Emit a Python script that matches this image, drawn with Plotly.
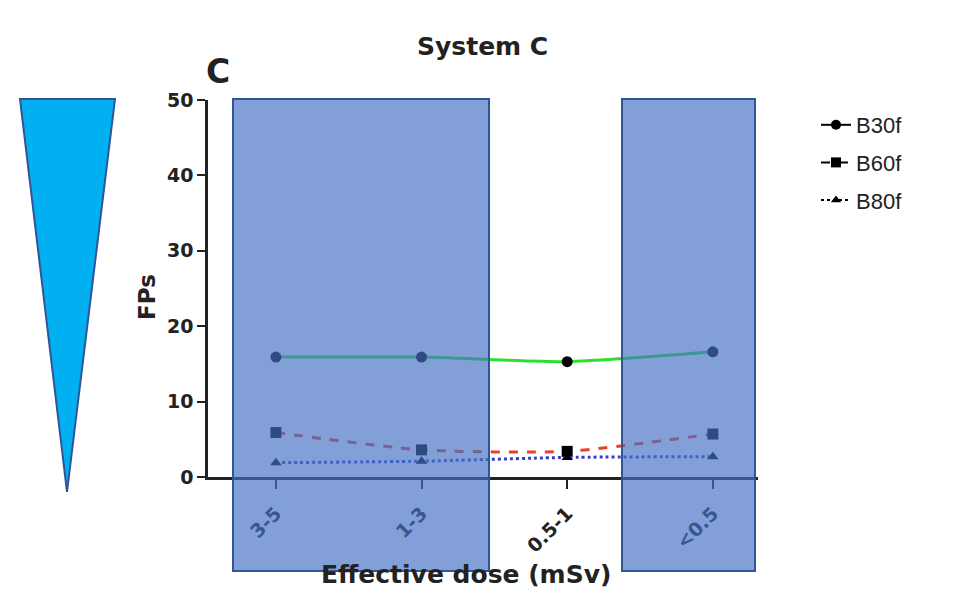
import plotly.graph_objects as go

categories = ["3-5", "1-3", "0.5-1", "<0.5"]
b30f = [15.9, 15.9, 15.3, 16.6]
b60f = [5.9, 3.6, 3.4, 5.7]
b80f = [1.9, 2.1, 2.6, 2.7]
y_ticks = [0, 10, 20, 30, 40, 50]

BOLD = "DejaVu Sans, sans-serif"
LEG = "Liberation Sans, Arial, sans-serif"

series = [
    ("B30f", b30f, "#2ee02e", "solid", "circle", 11),
    ("B60f", b60f, "#e8402a", "dash", "square", 11),
    ("B80f", b80f, "#3a3ad0", "dot", "triangle-up", 10),
]

fig = go.Figure()
for name, vals, col, dash, sym, ms in series:
    fig.add_trace(go.Scatter(
        x=categories, y=vals, mode="lines+markers", name=name, showlegend=False,
        line=dict(color=col, width=3, dash=dash, shape="spline", smoothing=0.6),
        marker=dict(symbol=sym, size=ms, color="black"),
    ))
for name, vals, col, dash, sym, ms in series:
    fig.add_trace(go.Scatter(
        x=[None], y=[None], mode="lines+markers", name=name, legendgroup=name,
        line=dict(color="black", width=2, dash=dash),
        marker=dict(symbol=sym, size=ms - 1, color="black"),
    ))

# window-pixel geometry (page body has an 8px margin)
OFF = 8
W, H = 956, 610
L, R, T, B = 208, 758, 100, 477
pw, ph = R - L, B - T


def px(x):
    return (x - L) / pw


def py(y):
    return (B - y) / ph


shapes = []
for x0, x1 in [(233, 489), (622, 755)]:
    shapes.append(dict(type="rect", xref="paper", yref="paper",
                       x0=px(x0), x1=px(x1), y0=py(571), y1=py(99),
                       fillcolor="rgba(68,114,196,0.67)",
                       line=dict(color="#2f5597", width=2), layer="above"))
tri = "M {},{} L {},{} L {},{} Z".format(px(20), py(99), px(115), py(99), px(67), py(492))
shapes.append(dict(type="path", xref="paper", yref="paper", path=tri,
                   fillcolor="#00b0f0", line=dict(color="#2f5597", width=2), layer="above"))

fig.update_layout(
    width=W, height=H,
    margin=dict(l=L - OFF, r=W - (R - OFF), t=T - OFF, b=H - (B - OFF), pad=0),
    paper_bgcolor="white", plot_bgcolor="white",
    font=dict(family=BOLD, color="#222"),
    shapes=shapes,
    showlegend=True,
    legend=dict(x=px(816), y=py(104), xanchor="left", yanchor="top",
                font=dict(size=22, color="#222", family=LEG),
                tracegroupgap=6, bgcolor="rgba(0,0,0,0)"),
    annotations=[
        dict(text="<b>System C</b>", x=px(482), y=py(30), xref="paper", yref="paper",
             showarrow=False, font=dict(size=25, color="#222")),
        dict(text="<b>C</b>", x=px(204), y=py(50), xref="paper", yref="paper",
             showarrow=False, font=dict(size=33, color="#222")),
        dict(text="<b>FPs</b>", x=px(132), y=py(297), xref="paper", yref="paper",
             showarrow=False, textangle=-90, font=dict(size=23, color="#222")),
        dict(text="<b>Effective dose (mSv)</b>", x=px(466), y=py(591), xref="paper", yref="paper",
             showarrow=False, font=dict(size=25, color="#222")),
    ],
)
fig.update_xaxes(
    type="category", range=[-0.466, 3.31],
    tickvals=categories, ticktext=["<b>%s</b>" % c for c in categories],
    showline=True, linecolor="#222", linewidth=3,
    ticks="outside", ticklen=9, tickwidth=2, tickcolor="#222",
    tickangle=-45, tickfont=dict(size=19, color="#222"), ticklabelstandoff=6,
    showgrid=False, zeroline=False,
)
fig.update_yaxes(
    range=[0, 50], tickvals=y_ticks, ticktext=["<b>%d</b>" % v for v in y_ticks],
    showline=True, linecolor="#222", linewidth=2.5,
    ticks="outside", ticklen=8, tickwidth=2, tickcolor="#222",
    tickfont=dict(size=19, color="#222"),
    showgrid=False, zeroline=False,
)

fig.write_html("out.html")
